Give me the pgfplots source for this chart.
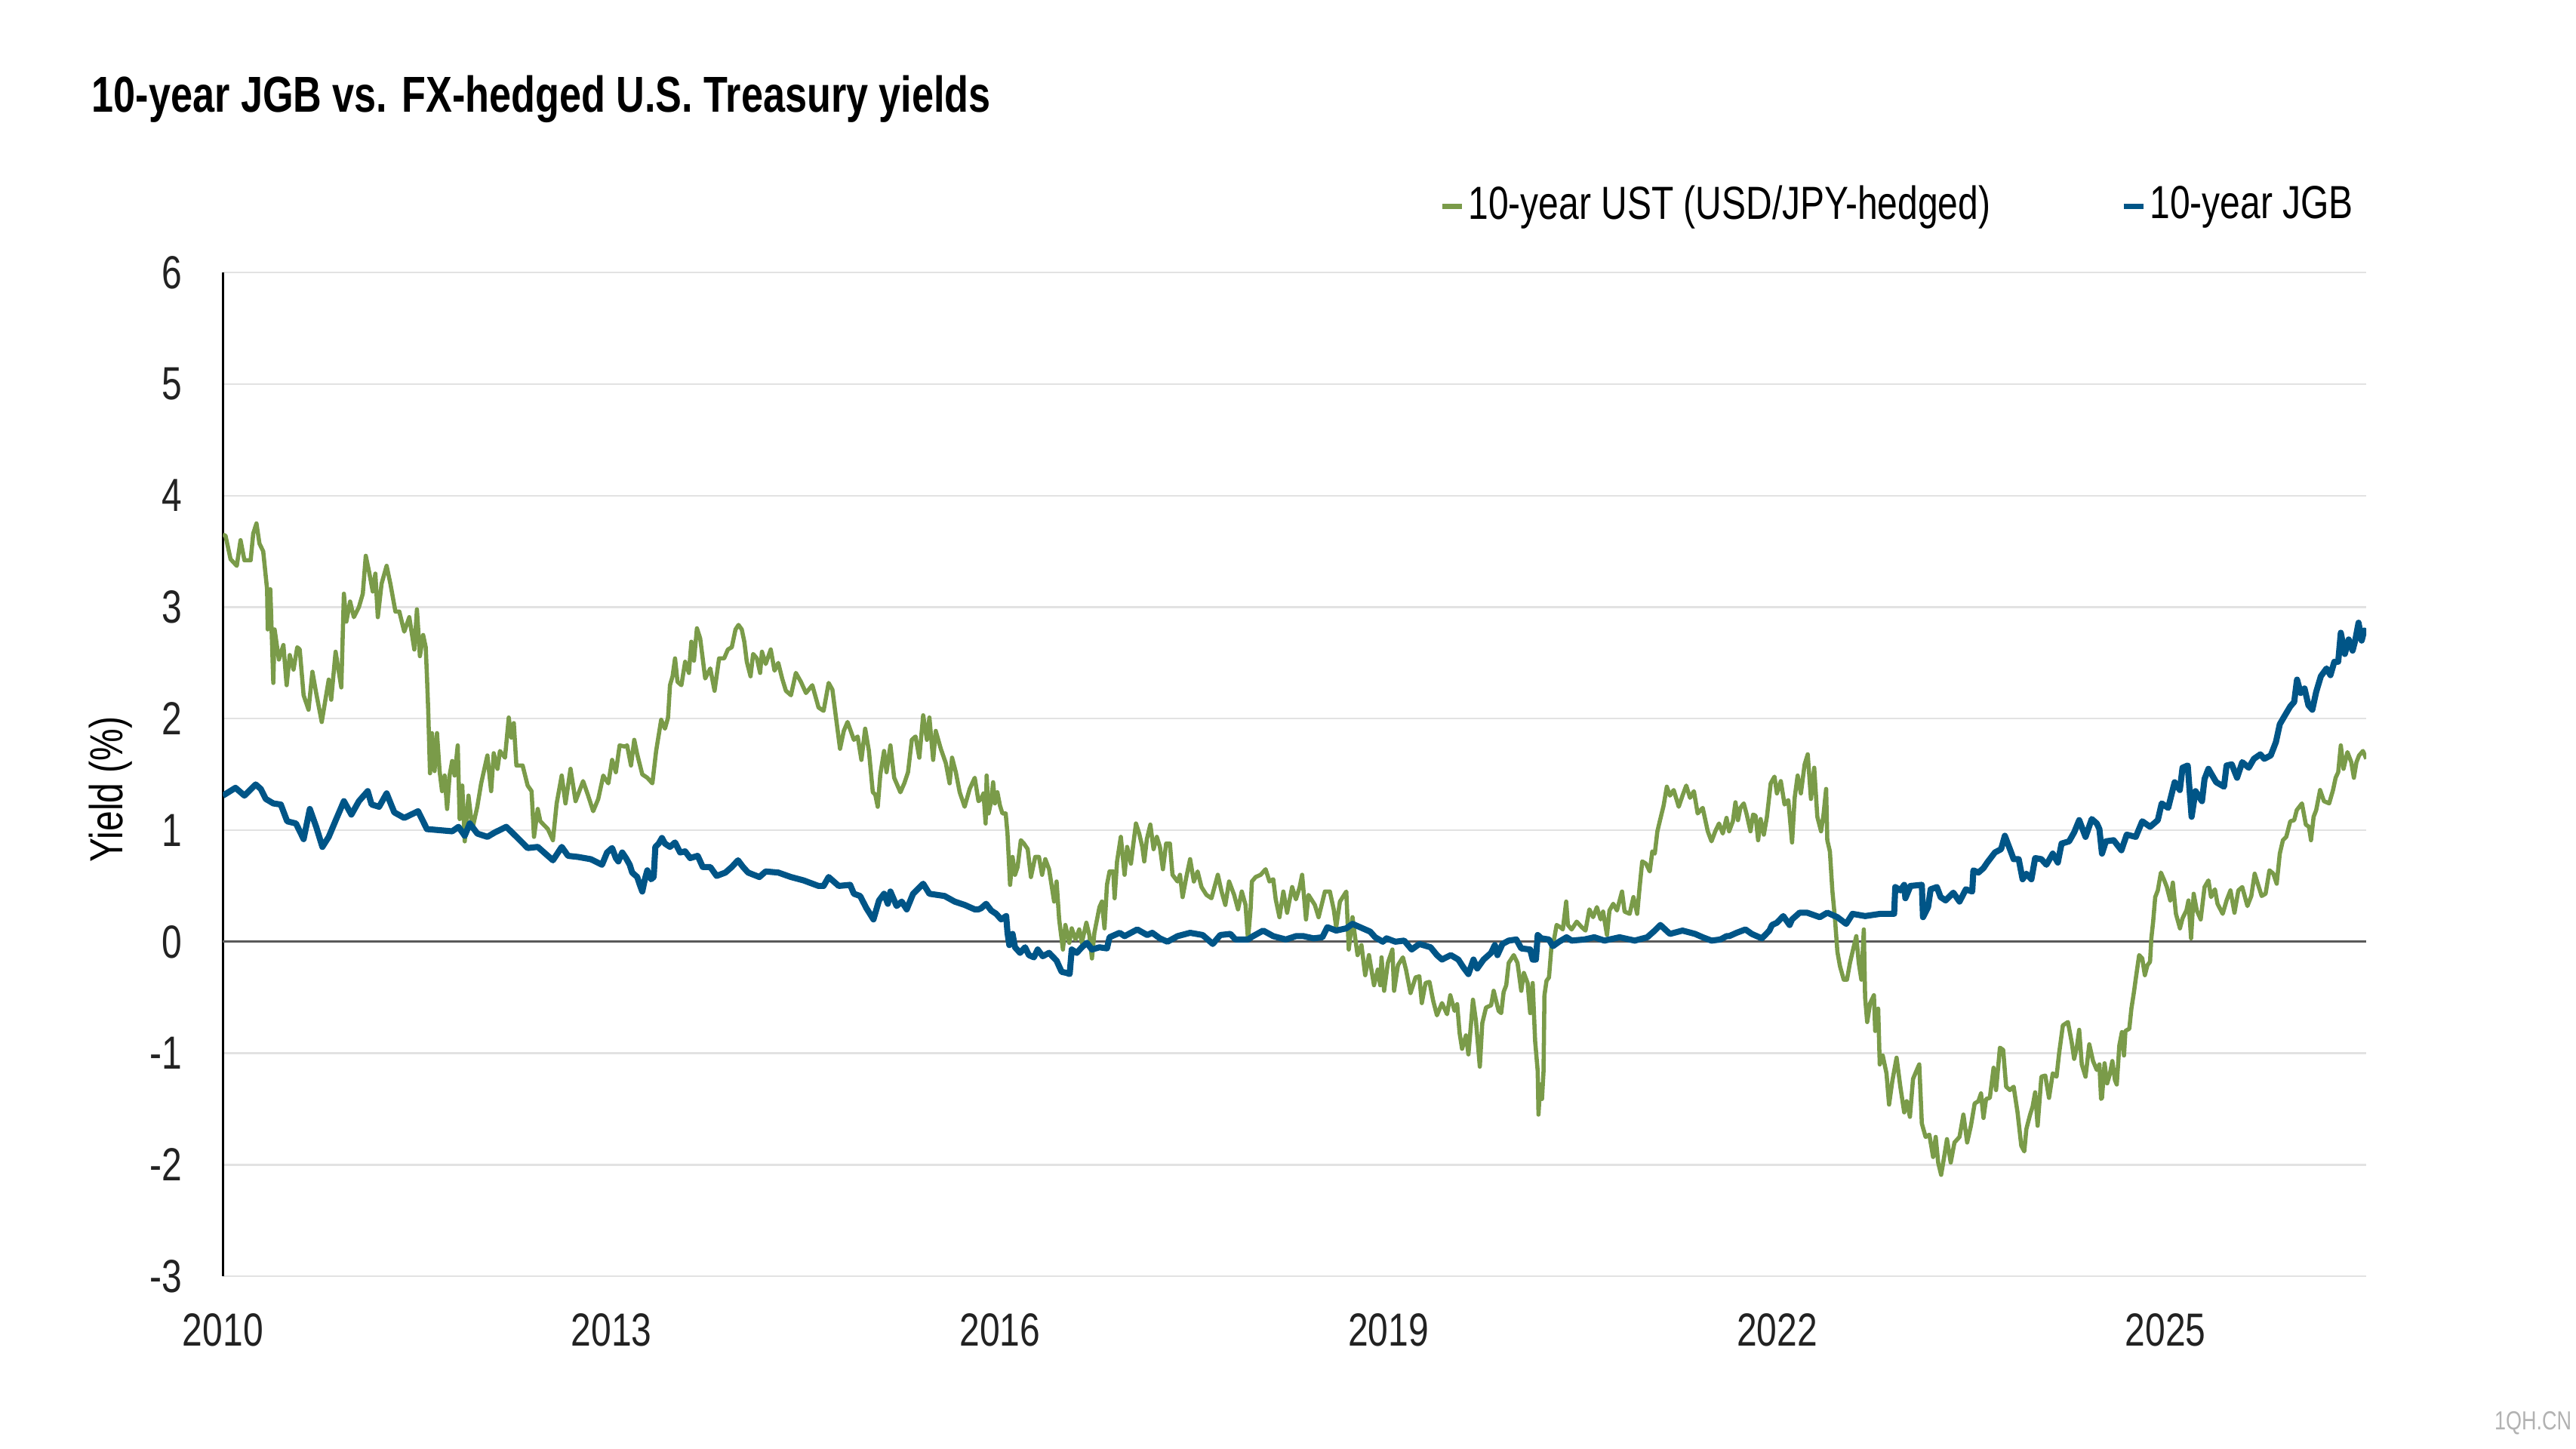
\documentclass[border=0pt]{standalone}
\usepackage{pgfplots}
\pgfplotsset{compat=1.18}
\usepackage{fontspec}
\setmainfont{Liberation Sans}[FakeStretch=0.78]
\definecolor{ustgreen}{HTML}{7A9B49}
\definecolor{jgbblue}{HTML}{005587}
\definecolor{gridgray}{HTML}{E2E2E2}
\definecolor{ticktext}{HTML}{222222}
\begin{document}
\begin{tikzpicture}
\useasboundingbox (0,0) rectangle (15.6cm,8.775cm);
\node[anchor=base west, inner sep=0pt, font=\bfseries\fontsize{8.7}{10}\selectfont] at (0.55cm,8.095cm) {10-year JGB vs. FX-hedged U.S. Treasury yields};
\node[anchor=east, inner sep=0pt, text=black!30, font=\fontsize{4.5}{5}\selectfont] at (15.58cm,0.155cm) {1QH.CN};
\begin{axis}[
  at={(1.35cm,1.045cm)}, anchor=south west,
  scale only axis, width=12.98cm, height=6.08cm,
  xmin=2010, xmax=2026.55, ymin=-3, ymax=6,
  xtick={2010,2013,2016,2019,2022,2025},
  xticklabels={2010,2013,2016,2019,2022,2025},
  ytick={-3,-2,-1,0,1,2,3,4,5,6},
  /pgf/number format/assume math mode=true,
  tick style={draw=none},
  major tick length=0pt,
  ymajorgrids=true,
  major grid style={draw=gridgray, line width=0.3pt},
  extra y ticks={0}, extra y tick labels={},
  extra y tick style={major grid style={draw=black!65, line width=0.4pt}},
  axis x line*=bottom, axis y line*=left,
  x axis line style={draw=none},
  y axis line style={draw=black, line width=0.35pt},
  ticklabel style={font=\fontsize{8}{9.6}\selectfont, text=ticktext},
  yticklabel style={inner sep=0pt, anchor=east, xshift=-0.24cm},
  xticklabel style={inner sep=0pt, anchor=north, yshift=-0.22cm},
  ylabel={Yield (\%)},
  ylabel style={at={(axis description cs:-0.0524,0.485)}, anchor=center, inner sep=0pt, font=\fontsize{8}{9.6}\selectfont, text=black},
  legend columns=2,
  legend style={at={(1,1)}, anchor=east, xshift=-0.08cm, yshift=0.4cm,
    draw=none, fill=none, inner sep=0pt, outer sep=0pt,
    font=\fontsize{8}{9.6}\selectfont,
    nodes={inner sep=0pt},
    /tikz/every odd column/.append style={column sep=0.02cm},
    /tikz/every even column/.append style={column sep=0.79cm}},
  legend cell align=left,
  legend image code/.code={\draw[#1, line width=1pt] (0cm,0cm) -- (0.12cm,0cm);},
]
\addplot[color=ustgreen, line width=0.72pt, line join=round] coordinates {
(2010.000,3.65) (2010.020,3.64) (2010.059,3.43) (2010.107,3.37) (2010.136,3.60) (2010.166,3.42) (2010.214,3.42) (2010.234,3.66) (2010.259,3.75) (2010.282,3.57) (2010.311,3.50) (2010.341,3.16) (2010.346,2.80) (2010.366,3.16) (2010.389,2.32) (2010.399,2.80) (2010.432,2.53) (2010.467,2.66) (2010.492,2.30) (2010.516,2.57) (2010.545,2.44) (2010.574,2.64) (2010.593,2.62) (2010.623,2.21) (2010.661,2.08) (2010.691,2.42) (2010.720,2.23) (2010.763,1.97) (2010.817,2.35) (2010.836,2.17) (2010.870,2.60) (2010.914,2.28) (2010.934,3.12) (2010.953,2.87) (2010.982,3.05) (2011.011,2.91) (2011.050,3.00) (2011.080,3.12) (2011.103,3.46) (2011.128,3.32) (2011.157,3.14) (2011.177,3.30) (2011.196,2.91) (2011.225,3.21) (2011.264,3.37) (2011.293,3.21) (2011.332,2.96) (2011.362,2.96) (2011.400,2.78) (2011.439,2.91) (2011.478,2.62) (2011.498,2.98) (2011.521,2.56) (2011.546,2.75) (2011.566,2.64) (2011.575,2.39) (2011.585,2.08) (2011.599,1.51) (2011.614,1.87) (2011.634,1.53) (2011.653,1.87) (2011.673,1.53) (2011.692,1.35) (2011.712,1.49) (2011.731,1.19) (2011.750,1.49) (2011.770,1.62) (2011.789,1.49) (2011.813,1.76) (2011.828,1.10) (2011.848,1.40) (2011.867,0.90) (2011.896,1.31) (2011.926,1.01) (2011.964,1.21) (2011.994,1.42) (2012.042,1.67) (2012.071,1.35) (2012.091,1.69) (2012.120,1.55) (2012.139,1.71) (2012.178,1.65) (2012.207,2.01) (2012.227,1.83) (2012.246,1.96) (2012.266,1.58) (2012.314,1.58) (2012.353,1.40) (2012.383,1.35) (2012.402,0.94) (2012.431,1.19) (2012.451,1.08) (2012.509,1.01) (2012.548,0.91) (2012.577,1.24) (2012.616,1.49) (2012.645,1.24) (2012.684,1.55) (2012.723,1.26) (2012.781,1.44) (2012.820,1.31) (2012.859,1.17) (2012.898,1.28) (2012.937,1.49)
(2012.946,1.47) (2012.976,1.42) (2013.005,1.63) (2013.034,1.52) (2013.063,1.76) (2013.102,1.75) (2013.121,1.76) (2013.151,1.58) (2013.176,1.81) (2013.199,1.68) (2013.238,1.50) (2013.277,1.47) (2013.316,1.42) (2013.345,1.71) (2013.384,1.99) (2013.413,1.91) (2013.437,2.01) (2013.452,2.30) (2013.472,2.38) (2013.491,2.54) (2013.510,2.33) (2013.540,2.30) (2013.569,2.51) (2013.598,2.41) (2013.617,2.69) (2013.637,2.52) (2013.660,2.81) (2013.685,2.72) (2013.724,2.36) (2013.763,2.45) (2013.796,2.25) (2013.831,2.54) (2013.870,2.54) (2013.899,2.62) (2013.929,2.64) (2013.958,2.80) (2013.981,2.84) (2014.006,2.80) (2014.026,2.69) (2014.045,2.51) (2014.074,2.38) (2014.094,2.58) (2014.123,2.54) (2014.148,2.41) (2014.162,2.60) (2014.191,2.49) (2014.230,2.62) (2014.259,2.43) (2014.288,2.50) (2014.318,2.36) (2014.347,2.25) (2014.386,2.21) (2014.424,2.41) (2014.463,2.33) (2014.502,2.23) (2014.551,2.30) (2014.599,2.10) (2014.638,2.07) (2014.677,2.32) (2014.706,2.26) (2014.736,1.99) (2014.765,1.73) (2014.794,1.89) (2014.823,1.97) (2014.872,1.81) (2014.901,1.84) (2014.930,1.63) (2014.959,1.91) (2014.988,1.71) (2015.018,1.34) (2015.037,1.32) (2015.056,1.21) (2015.076,1.50) (2015.105,1.71) (2015.124,1.52) (2015.154,1.76) (2015.183,1.47) (2015.231,1.34) (2015.261,1.42) (2015.290,1.52) (2015.319,1.81) (2015.348,1.84) (2015.377,1.65) (2015.407,2.03) (2015.436,1.81) (2015.455,2.01) (2015.484,1.63) (2015.504,1.89) (2015.543,1.73) (2015.582,1.60) (2015.611,1.42) (2015.630,1.65) (2015.659,1.52) (2015.689,1.34) (2015.727,1.21) (2015.766,1.37) (2015.805,1.47) (2015.834,1.26)
(2015.854,1.28) (2015.873,1.33) (2015.889,1.06) (2015.897,1.49) (2015.912,1.15) (2015.932,1.26) (2015.947,1.43) (2015.961,1.24) (2015.980,1.34) (2016.000,1.22) (2016.019,1.15) (2016.044,1.15) (2016.058,0.97) (2016.078,0.51) (2016.097,0.76) (2016.116,0.60) (2016.136,0.67) (2016.161,0.91) (2016.185,0.88) (2016.214,0.83) (2016.239,0.58) (2016.272,0.76) (2016.301,0.76) (2016.325,0.60) (2016.350,0.74) (2016.379,0.65) (2016.398,0.51) (2016.418,0.36) (2016.437,0.54) (2016.457,0.20) (2016.486,-0.07) (2016.505,0.15) (2016.535,-0.01) (2016.554,0.12) (2016.583,0.02) (2016.612,0.11) (2016.632,-0.01) (2016.667,0.17) (2016.690,0.06) (2016.710,-0.15) (2016.729,0.08) (2016.768,0.31) (2016.787,0.36) (2016.807,0.12) (2016.826,0.51) (2016.846,0.63) (2016.875,0.63) (2016.885,0.39) (2016.904,0.72) (2016.933,0.94) (2016.962,0.60) (2016.982,0.85) (2017.011,0.70) (2017.030,0.88) (2017.050,1.06) (2017.075,0.97) (2017.099,0.85) (2017.114,0.72) (2017.134,0.92) (2017.161,1.05) (2017.186,0.83) (2017.211,0.94) (2017.235,0.85) (2017.258,0.65) (2017.283,0.88) (2017.312,0.88) (2017.332,0.60) (2017.371,0.54) (2017.390,0.60) (2017.410,0.40) (2017.439,0.58) (2017.468,0.74) (2017.497,0.54) (2017.526,0.63) (2017.556,0.49) (2017.594,0.42) (2017.633,0.39) (2017.682,0.60) (2017.711,0.45) (2017.740,0.33) (2017.769,0.54) (2017.808,0.42) (2017.838,0.29) (2017.867,0.45) (2017.896,0.33) (2017.915,0.02) (2017.935,0.29) (2017.945,0.54) (2017.974,0.58) (2018.013,0.60) (2018.051,0.65) (2018.081,0.54) (2018.110,0.56) (2018.129,0.38) (2018.158,0.22) (2018.188,0.45) (2018.217,0.26) (2018.256,0.49) (2018.285,0.38) (2018.314,0.49) (2018.333,0.60) (2018.363,0.20) (2018.382,0.42) (2018.431,0.33) (2018.460,0.22) (2018.509,0.45) (2018.547,0.45) (2018.577,0.29) (2018.596,0.13) (2018.625,0.36) (2018.674,0.45) (2018.693,-0.07) (2018.722,0.22)
(2018.742,0.04) (2018.761,-0.12) (2018.791,-0.03) (2018.820,-0.30) (2018.849,-0.12) (2018.888,-0.39) (2018.917,-0.25) (2018.936,-0.39) (2018.946,-0.14) (2018.966,-0.44) (2018.995,-0.19) (2019.030,-0.07) (2019.043,-0.44) (2019.073,-0.21) (2019.111,-0.14) (2019.135,-0.25) (2019.170,-0.46) (2019.209,-0.32) (2019.238,-0.31) (2019.257,-0.55) (2019.286,-0.37) (2019.316,-0.36) (2019.345,-0.53) (2019.374,-0.66) (2019.413,-0.55) (2019.452,-0.65) (2019.477,-0.48) (2019.510,-0.62) (2019.530,-0.56) (2019.549,-0.82) (2019.568,-0.96) (2019.598,-0.84) (2019.617,-1.01) (2019.636,-0.75) (2019.652,-0.52) (2019.675,-0.71) (2019.705,-1.12) (2019.724,-0.73) (2019.753,-0.59) (2019.792,-0.57) (2019.812,-0.44) (2019.850,-0.62) (2019.870,-0.64) (2019.889,-0.45) (2019.909,-0.39) (2019.928,-0.19) (2019.967,-0.12) (2019.996,-0.19) (2020.025,-0.44) (2020.045,-0.28) (2020.074,-0.37) (2020.094,-0.64) (2020.113,-0.37) (2020.132,-0.89) (2020.152,-1.16) (2020.158,-1.55) (2020.171,-1.28) (2020.185,-1.41) (2020.197,-1.16) (2020.204,-0.48) (2020.220,-0.35) (2020.239,-0.32) (2020.259,-0.03) (2020.278,0.02) (2020.298,0.15) (2020.327,0.13) (2020.346,0.11) (2020.372,0.36) (2020.385,0.15) (2020.414,0.11) (2020.453,0.18) (2020.492,0.13) (2020.521,0.10) (2020.551,0.29) (2020.580,0.22) (2020.609,0.31) (2020.638,0.20) (2020.657,0.27) (2020.687,0.06) (2020.706,0.28) (2020.735,0.34) (2020.764,0.28) (2020.803,0.45) (2020.823,0.27) (2020.862,0.25) (2020.891,0.40) (2020.920,0.25) (2020.939,0.49) (2020.959,0.72) (2020.988,0.70) (2021.017,0.63) (2021.037,0.81) (2021.056,0.79) (2021.076,0.99) (2021.105,1.13) (2021.124,1.22) (2021.149,1.39) (2021.173,1.31) (2021.202,1.36) (2021.241,1.21) (2021.270,1.31) (2021.299,1.40) (2021.328,1.29) (2021.358,1.35) (2021.387,1.15) (2021.426,1.20) (2021.465,0.99) (2021.494,0.90) (2021.523,0.99) (2021.552,1.06) (2021.581,0.97) (2021.610,1.11)
(2021.630,0.99) (2021.659,1.08) (2021.679,1.25) (2021.698,1.09) (2021.717,1.20) (2021.743,1.24) (2021.766,1.14) (2021.795,0.99) (2021.815,1.14) (2021.834,1.13) (2021.854,0.91) (2021.873,1.10) (2021.898,0.96) (2021.922,1.12) (2021.951,1.42) (2021.980,1.48) (2021.999,1.33) (2022.029,1.44) (2022.058,1.23) (2022.087,1.27) (2022.116,0.89) (2022.136,1.29) (2022.159,1.49) (2022.184,1.33) (2022.213,1.59) (2022.237,1.68) (2022.262,1.28) (2022.287,1.56) (2022.311,1.12) (2022.340,0.99) (2022.359,1.14) (2022.379,1.37) (2022.388,0.91) (2022.408,0.81) (2022.427,0.46) (2022.447,0.21) (2022.466,-0.09) (2022.486,-0.22) (2022.515,-0.34) (2022.540,-0.34) (2022.563,-0.19) (2022.583,-0.09) (2022.612,0.05) (2022.631,-0.19) (2022.651,-0.34) (2022.670,0.11) (2022.680,-0.50) (2022.696,-0.72) (2022.719,-0.55) (2022.748,-0.48) (2022.758,-0.80) (2022.781,-0.60) (2022.793,-1.10) (2022.816,-1.02) (2022.845,-1.18) (2022.865,-1.46) (2022.890,-1.25) (2022.923,-1.04) (2022.952,-1.30) (2022.982,-1.53) (2023.001,-1.43) (2023.026,-1.57) (2023.050,-1.23) (2023.079,-1.15) (2023.098,-1.10) (2023.118,-1.63) (2023.147,-1.75) (2023.176,-1.73) (2023.205,-1.93) (2023.225,-1.75) (2023.244,-1.98) (2023.267,-2.09) (2023.293,-1.91) (2023.312,-1.77) (2023.341,-1.98) (2023.370,-1.80) (2023.409,-1.75) (2023.439,-1.55) (2023.468,-1.80) (2023.497,-1.65) (2023.526,-1.45) (2023.555,-1.43) (2023.575,-1.36) (2023.594,-1.58) (2023.614,-1.41) (2023.643,-1.40) (2023.672,-1.13) (2023.691,-1.33) (2023.721,-0.95) (2023.746,-0.97) (2023.769,-1.30) (2023.798,-1.33) (2023.827,-1.30) (2023.857,-1.53) (2023.886,-1.83) (2023.909,-1.88) (2023.925,-1.68) (2023.954,-1.55) (2023.973,-1.48) (2023.993,-1.35) (2024.012,-1.65) (2024.041,-1.21) (2024.071,-1.20) (2024.100,-1.40) (2024.129,-1.18) (2024.158,-1.21) (2024.178,-1.00) (2024.207,-0.75) (2024.246,-0.72) (2024.275,-0.90) (2024.294,-1.05) (2024.314,-0.95) (2024.333,-0.79) (2024.353,-1.10) (2024.382,-1.21) (2024.411,-0.92) (2024.440,-1.07) (2024.469,-1.15) (2024.489,-1.10) (2024.502,-1.41)
(2024.509,-1.40) (2024.529,-1.09) (2024.549,-1.27) (2024.569,-1.19) (2024.589,-1.07) (2024.609,-1.24) (2024.623,-1.28) (2024.643,-0.93) (2024.663,-0.81) (2024.679,-1.02) (2024.690,-0.80) (2024.720,-0.78) (2024.736,-0.60) (2024.756,-0.45) (2024.770,-0.33) (2024.796,-0.12) (2024.820,-0.15) (2024.840,-0.30) (2024.860,-0.21) (2024.880,-0.18) (2024.890,0.03) (2024.904,0.18) (2024.920,0.40) (2024.940,0.46) (2024.964,0.62) (2024.990,0.55) (2025.010,0.49) (2025.036,0.37) (2025.056,0.53) (2025.080,0.25) (2025.111,0.12) (2025.131,0.21) (2025.161,0.28) (2025.177,0.37) (2025.197,0.03) (2025.217,0.43) (2025.241,0.28) (2025.271,0.20) (2025.301,0.49) (2025.331,0.55) (2025.351,0.40) (2025.381,0.47) (2025.401,0.34) (2025.441,0.25) (2025.471,0.37) (2025.501,0.46) (2025.532,0.26) (2025.562,0.46) (2025.592,0.49) (2025.632,0.32) (2025.662,0.41) (2025.688,0.61) (2025.712,0.52) (2025.742,0.41) (2025.772,0.43) (2025.802,0.64) (2025.832,0.61) (2025.858,0.52) (2025.882,0.79) (2025.906,0.91) (2025.932,0.94) (2025.963,1.08) (2025.993,1.09) (2026.013,1.18) (2026.053,1.24) (2026.083,1.05) (2026.107,1.03) (2026.123,0.91) (2026.143,1.12) (2026.163,1.18) (2026.193,1.36) (2026.223,1.26) (2026.263,1.24) (2026.293,1.36) (2026.313,1.47) (2026.333,1.52) (2026.353,1.76) (2026.374,1.55) (2026.404,1.70) (2026.434,1.61) (2026.454,1.47) (2026.474,1.61) (2026.494,1.67) (2026.524,1.71) (2026.550,1.64)
};
\addlegendentry{10-year UST (USD/JPY-hedged)}
\addplot[color=jgbblue, line width=1.05pt, line join=round] coordinates {
(2010.000,1.31) (2010.097,1.38) (2010.166,1.31) (2010.253,1.41) (2010.292,1.37) (2010.331,1.28) (2010.389,1.24) (2010.447,1.23) (2010.496,1.08) (2010.564,1.06) (2010.623,0.92) (2010.671,1.19) (2010.720,1.03) (2010.768,0.85) (2010.817,0.94) (2010.875,1.10) (2010.934,1.26) (2010.992,1.14) (2011.050,1.26) (2011.118,1.35) (2011.148,1.23) (2011.206,1.21) (2011.264,1.33) (2011.323,1.16) (2011.400,1.11) (2011.507,1.17) (2011.575,1.01) (2011.673,1.00) (2011.770,0.99) (2011.819,1.03) (2011.867,0.95) (2011.906,1.06) (2011.964,0.97) (2012.042,0.94) (2012.100,0.98) (2012.188,1.03) (2012.276,0.93) (2012.353,0.84) (2012.431,0.85) (2012.548,0.73) (2012.616,0.85) (2012.665,0.77) (2012.742,0.76) (2012.840,0.74) (2012.927,0.69)
(2012.966,0.80) (2013.005,0.84) (2013.034,0.75) (2013.053,0.72) (2013.083,0.80) (2013.112,0.75) (2013.141,0.69) (2013.160,0.62) (2013.199,0.58) (2013.219,0.51) (2013.238,0.45) (2013.258,0.56) (2013.277,0.64) (2013.306,0.56) (2013.326,0.58) (2013.339,0.85) (2013.365,0.88) (2013.390,0.93) (2013.413,0.88) (2013.452,0.85) (2013.491,0.89) (2013.530,0.80) (2013.569,0.81) (2013.608,0.75) (2013.666,0.77) (2013.705,0.67) (2013.763,0.67) (2013.812,0.59) (2013.880,0.62) (2013.929,0.67) (2013.977,0.73) (2014.016,0.67) (2014.055,0.62) (2014.142,0.58) (2014.191,0.63) (2014.288,0.62) (2014.386,0.58) (2014.483,0.55) (2014.599,0.50) (2014.638,0.50) (2014.677,0.58) (2014.755,0.50) (2014.843,0.51) (2014.872,0.43) (2014.920,0.41) (2014.969,0.30) (2015.023,0.20) (2015.066,0.37) (2015.105,0.43) (2015.134,0.34) (2015.154,0.45) (2015.202,0.32) (2015.241,0.36) (2015.280,0.29) (2015.329,0.43) (2015.407,0.52) (2015.455,0.43) (2015.514,0.42) (2015.572,0.41) (2015.650,0.36) (2015.727,0.33) (2015.805,0.29) (2015.834,0.29)
(2015.854,0.30) (2015.893,0.34) (2015.932,0.28) (2015.971,0.25) (2016.009,0.20) (2016.048,0.23) (2016.058,0.08) (2016.072,-0.03) (2016.097,0.07) (2016.116,-0.05) (2016.155,-0.10) (2016.194,-0.05) (2016.223,-0.12) (2016.262,-0.14) (2016.291,-0.07) (2016.330,-0.13) (2016.379,-0.10) (2016.437,-0.17) (2016.476,-0.27) (2016.515,-0.28) (2016.538,-0.29) (2016.554,-0.07) (2016.593,-0.10) (2016.632,-0.05) (2016.671,-0.01) (2016.710,-0.07) (2016.768,-0.05) (2016.826,-0.06) (2016.846,0.04) (2016.924,0.08) (2016.962,0.05) (2017.060,0.11) (2017.137,0.06) (2017.176,0.08) (2017.235,0.03) (2017.293,0.00) (2017.371,0.05) (2017.468,0.08) (2017.565,0.06) (2017.643,-0.02) (2017.701,0.06) (2017.779,0.07) (2017.818,0.02) (2017.915,0.02) (2017.954,0.05) (2018.032,0.10) (2018.110,0.05) (2018.207,0.02) (2018.285,0.05) (2018.343,0.05) (2018.421,0.03) (2018.489,0.04) (2018.528,0.13) (2018.596,0.10) (2018.674,0.12) (2018.722,0.16)
(2018.761,0.14) (2018.800,0.12) (2018.859,0.09) (2018.897,0.04) (2018.956,0.00) (2018.985,0.03) (2019.053,0.00) (2019.121,0.01) (2019.179,-0.07) (2019.238,-0.02) (2019.325,-0.05) (2019.374,-0.12) (2019.413,-0.16) (2019.481,-0.12) (2019.539,-0.16) (2019.578,-0.23) (2019.617,-0.29) (2019.656,-0.16) (2019.685,-0.24) (2019.734,-0.16) (2019.792,-0.10) (2019.821,-0.03) (2019.841,-0.12) (2019.880,-0.02) (2019.928,0.01) (2019.987,0.02) (2020.025,-0.06) (2020.094,-0.07) (2020.113,-0.16) (2020.138,-0.16) (2020.152,0.06) (2020.181,0.03) (2020.239,0.02) (2020.269,-0.04) (2020.317,0.00) (2020.375,0.04) (2020.414,0.01) (2020.512,0.02) (2020.589,0.04) (2020.667,0.01) (2020.784,0.04) (2020.901,0.01) (2020.998,0.04) (2021.056,0.10) (2021.099,0.15) (2021.173,0.07) (2021.270,0.10) (2021.367,0.07) (2021.426,0.04) (2021.494,0.01) (2021.562,0.02) (2021.610,0.05)
(2021.630,0.05) (2021.688,0.08) (2021.756,0.11) (2021.805,0.07) (2021.883,0.03) (2021.941,0.10) (2021.961,0.15) (2021.999,0.17) (2022.048,0.23) (2022.097,0.15) (2022.116,0.20) (2022.174,0.26) (2022.233,0.26) (2022.330,0.22) (2022.388,0.26) (2022.466,0.22) (2022.534,0.16) (2022.583,0.25) (2022.680,0.23) (2022.797,0.25) (2022.904,0.25) (2022.913,0.49) (2022.952,0.46) (2022.982,0.51) (2022.991,0.39) (2023.030,0.50) (2023.118,0.51) (2023.127,0.22) (2023.166,0.31) (2023.186,0.47) (2023.234,0.49) (2023.263,0.40) (2023.302,0.37) (2023.361,0.44) (2023.409,0.36) (2023.458,0.47) (2023.507,0.45) (2023.516,0.64) (2023.555,0.62) (2023.594,0.66) (2023.623,0.71) (2023.682,0.80) (2023.730,0.83) (2023.759,0.95) (2023.798,0.83) (2023.827,0.74) (2023.866,0.74) (2023.896,0.56) (2023.925,0.61) (2023.964,0.56) (2023.993,0.75) (2024.041,0.74) (2024.080,0.69) (2024.129,0.79) (2024.168,0.71) (2024.197,0.88) (2024.255,0.90) (2024.294,0.98) (2024.333,1.09) (2024.382,0.94) (2024.430,1.10) (2024.469,1.06) (2024.489,1.01)
(2024.509,0.79) (2024.539,0.90) (2024.599,0.91) (2024.659,0.82) (2024.700,0.96) (2024.770,0.94) (2024.820,1.08) (2024.880,1.03) (2024.940,1.09) (2024.970,1.24) (2025.020,1.20) (2025.070,1.43) (2025.110,1.36) (2025.131,1.56) (2025.171,1.58) (2025.201,1.12) (2025.231,1.35) (2025.281,1.26) (2025.301,1.46) (2025.331,1.55) (2025.391,1.43) (2025.451,1.39) (2025.471,1.58) (2025.511,1.59) (2025.552,1.47) (2025.592,1.61) (2025.642,1.56) (2025.682,1.64) (2025.732,1.68) (2025.762,1.64) (2025.812,1.67) (2025.852,1.79) (2025.882,1.95) (2025.922,2.03) (2025.963,2.11) (2025.993,2.15) (2026.015,2.35) (2026.043,2.23) (2026.073,2.27) (2026.103,2.12) (2026.133,2.08) (2026.163,2.24) (2026.199,2.38) (2026.243,2.45) (2026.273,2.39) (2026.303,2.51) (2026.333,2.51) (2026.353,2.77) (2026.384,2.58) (2026.414,2.71) (2026.444,2.61) (2026.464,2.70) (2026.490,2.86) (2026.514,2.70) (2026.534,2.79) (2026.550,2.76)
};
\addlegendentry{10-year JGB}
\end{axis}
\end{tikzpicture}
\end{document}
